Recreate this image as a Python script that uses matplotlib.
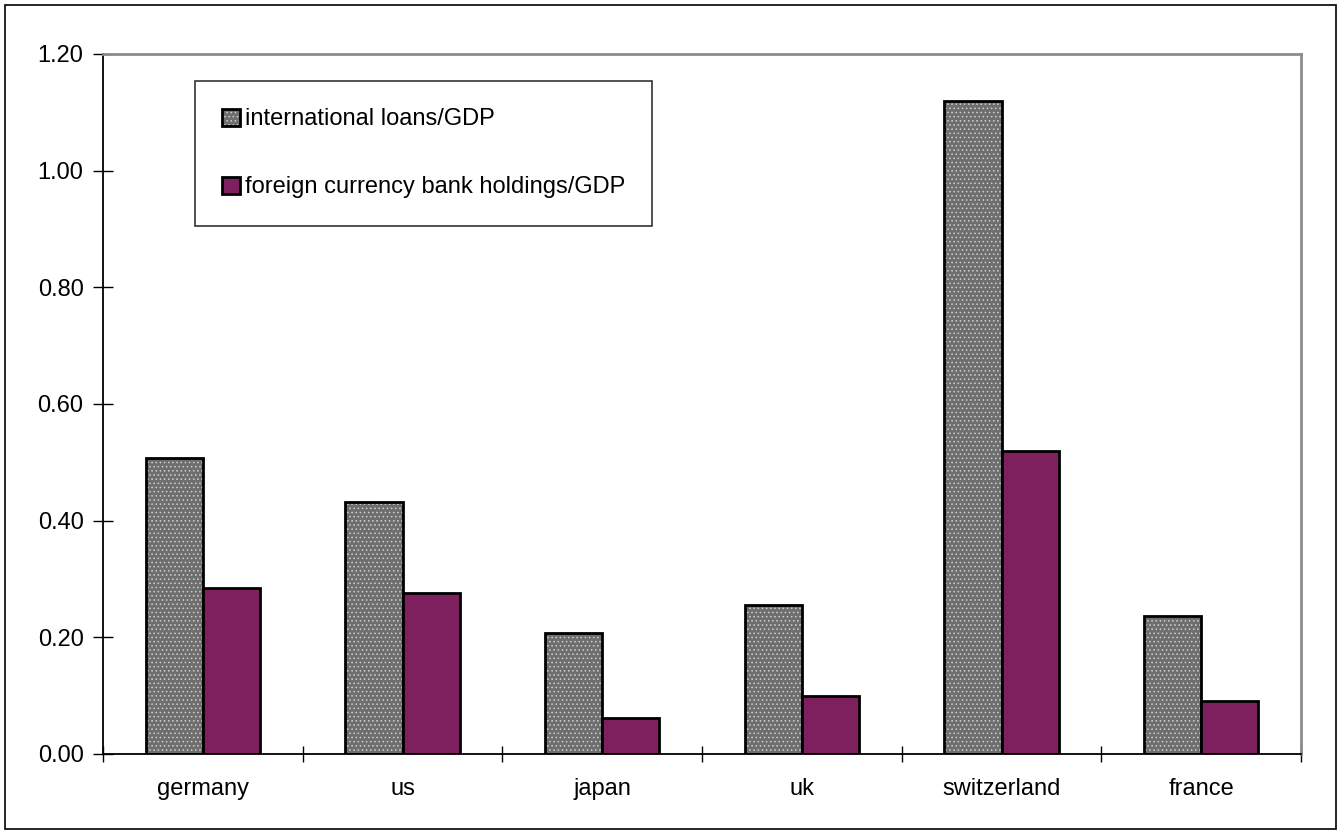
import matplotlib
matplotlib.use("Agg")
import matplotlib.pyplot as plt
from matplotlib.patches import Rectangle
import numpy as np

countries = ["germany", "us", "japan", "uk", "switzerland", "france"]
loans = [0.508, 0.432, 0.208, 0.256, 1.120, 0.237]
fx_holdings = [0.284, 0.276, 0.062, 0.100, 0.520, 0.091]
yticks = [0.0, 0.2, 0.4, 0.6, 0.8, 1.0, 1.2]

plt.rcParams['font.family'] = ['Liberation Sans', 'DejaVu Sans']
plt.rcParams['hatch.color'] = '#d0d0d0'
plt.rcParams['hatch.linewidth'] = 0.6

fig = plt.figure(figsize=(13.4, 8.34), dpi=100)
ax = fig.add_axes([103 / 1340, 80 / 834, 1198 / 1340, 700 / 834])

# outer frame round the whole chart
fig.patches.append(Rectangle((5 / 1340, 5 / 834), 1331 / 1340, 824 / 834,
                             transform=fig.transFigure, fill=False,
                             edgecolor='black', linewidth=1.2))

x = np.arange(len(countries))
w = 1 / 3.5
purple = '#7e1f5e'
fs = 17

# hatched grey bars (no edge so hatch keeps its own colour), then outlines
b1 = ax.bar(x - w / 2, loans, w, color='#6e6e6e', hatch='....', linewidth=0)
o1 = ax.bar(x - w / 2, loans, w, fill=False, edgecolor='black', linewidth=2)
b2 = ax.bar(x + w / 2, fx_holdings, w, color=purple, edgecolor='black', linewidth=2)

ax.set_xlim(-0.5, len(countries) - 0.5)
ax.set_ylim(0, 1.2)
ax.set_yticks(yticks)
ax.set_yticklabels([f"{v:.2f}" for v in yticks])
ax.set_xticks(x)
ax.set_xticklabels(countries)
ax.set_xticks(np.arange(len(countries) + 1) - 0.5, minor=True)
ax.tick_params(axis='x', which='major', length=0, pad=17, labelsize=fs)
ax.tick_params(axis='x', which='minor', direction='inout', length=12, width=1)
ax.tick_params(axis='y', direction='inout', length=14, width=1, pad=7, labelsize=fs)

for s in ['left', 'bottom']:
    ax.spines[s].set_color('black')
    ax.spines[s].set_linewidth(1.3)
for s in ['top', 'right']:
    ax.spines[s].set_color('#8c8c8c')
    ax.spines[s].set_linewidth(2)

leg = ax.legend([(b1[0], o1[0]), b2[0]],
                ["international loans/GDP", "foreign currency bank holdings/GDP"],
                loc='upper left', bbox_to_anchor=(0.077, 0.961), borderaxespad=0,
                frameon=True, fancybox=False, fontsize=fs,
                handlelength=0.75, handleheight=0.75, handletextpad=0.2,
                borderpad=1.15, labelspacing=1.95)
leg.get_frame().set_edgecolor('black')
leg.get_frame().set_linewidth(1.2)

fig.savefig("out.png", dpi=100)
